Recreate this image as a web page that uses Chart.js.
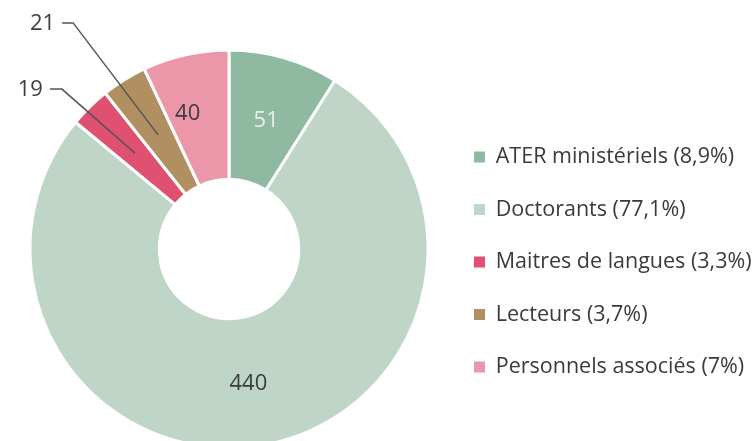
<!DOCTYPE html>
<html>
<head>
<meta charset="utf-8">
<script src="https://cdn.jsdelivr.net/npm/chart.js@4.4.0/dist/chart.umd.min.js"></script>
<style>
  html, body { margin: 0; padding: 0; overflow: hidden; background: #fff; }
  canvas { display: block; }
</style>
</head>
<body>
<canvas id="donut" width="820" height="460"></canvas>
<script>
const categories = ["ATER ministériels", "Doctorants", "Maitres de langues", "Lecteurs", "Personnels associés"];
const counts = [51, 440, 19, 21, 40];
const shareLabels = ["8,9%", "77,1%", "3,3%", "3,7%", "7%"];

const sliceColors = ["#8fb9a0", "#bed5c8", "#e05071", "#b08f60", "#ec96aa"];
const valueColors = ["#e9f1ec", "#3d3d3d", "#3d3d3d", "#3d3d3d", "#3d3d3d"];
// leader lines for the thin slices: offset of the elbow from the slice, then a short tail
const callouts = [null, null, { dx: -73, dy: -64, tail: 12 }, { dx: -85, dy: -112, tail: 11 }, null];
// small nudges for the labels drawn inside the ring
const labelNudges = [[0, 1], [-2, 2], null, null, [-12, -4]];

const fontFamily = "'Open Sans'";
const legendFontSize = 21.5;
const legendPadding = 31;
const legendBox = 11;
const canvasW = 820;
const legendLeft = 474 - legendPadding; // legend boxes start at x=474
const donutCenterX = 229;

const legendTexts = categories.map((c, i) => `${c} (${shareLabels[i]})`);

const valueLabels = {
  id: "valueLabels",
  afterDatasetsDraw(chart) {
    const ctx = chart.ctx;
    const arcs = chart.getDatasetMeta(0).data;
    ctx.save();
    ctx.font = `22px ${fontFamily}`;
    ctx.textBaseline = "middle";
    arcs.forEach((arc, i) => {
      const p = arc.getProps(["x", "y", "startAngle", "endAngle", "innerRadius", "outerRadius"], true);
      const mid = (p.startAngle + p.endAngle) / 2;
      const r = (p.innerRadius + p.outerRadius) / 2;
      const ax = p.x + Math.cos(mid) * r;
      const ay = p.y + Math.sin(mid) * r;
      const c = callouts[i];
      if (c) {
        const ex = ax + c.dx;
        const ey = ay + c.dy;
        ctx.strokeStyle = "#555";
        ctx.lineWidth = 1.5;
        ctx.beginPath();
        ctx.moveTo(ax, ay);
        ctx.lineTo(ex, ey);
        ctx.lineTo(ex - c.tail, ey);
        ctx.stroke();
        ctx.fillStyle = "#3d3d3d";
        ctx.textAlign = "right";
        ctx.fillText(String(counts[i]), ex - c.tail - 7, ey + 1);
      } else {
        const [nx, ny] = labelNudges[i];
        ctx.fillStyle = valueColors[i];
        ctx.textAlign = "center";
        ctx.fillText(String(counts[i]), ax + nx, ay + ny);
      }
    });
    ctx.restore();
  },
};

const ctx = document.getElementById("donut").getContext("2d");
const donut = new Chart(ctx, {
  type: "doughnut",
  data: {
    labels: legendTexts,
    datasets: [
      {
        data: counts,
        backgroundColor: sliceColors,
        borderColor: "#ffffff",
        borderWidth: 3,
      },
    ],
  },
  options: {
    responsive: false,
    animation: false,
    cutout: "35%",
    layout: {
      padding: {
        left: 2 * donutCenterX - legendLeft,
        right: 40,
        top: 48.5,
        bottom: 10.5,
      },
    },
    plugins: {
      tooltip: { enabled: false },
      legend: {
        position: "right",
        align: "center",
        title: { display: true, text: " ", font: { size: 10 }, padding: 7 },
        labels: {
          boxWidth: legendBox,
          boxHeight: legendBox,
          padding: legendPadding,
          color: "#3a3a3a",
          font: { family: fontFamily, size: legendFontSize },
          generateLabels(chart) {
            const base = Chart.overrides.doughnut.plugins.legend.labels.generateLabels(chart);
            return base.map((item) => ({ ...item, lineWidth: 0, strokeStyle: "transparent" }));
          },
        },
      },
    },
  },
  plugins: [valueLabels],
});

// place the legend from its measured width, then redraw
donut.options.layout.padding.right = canvasW - legendLeft - donut.legend.width;
donut.update("none");
</script>
</body>
</html>
